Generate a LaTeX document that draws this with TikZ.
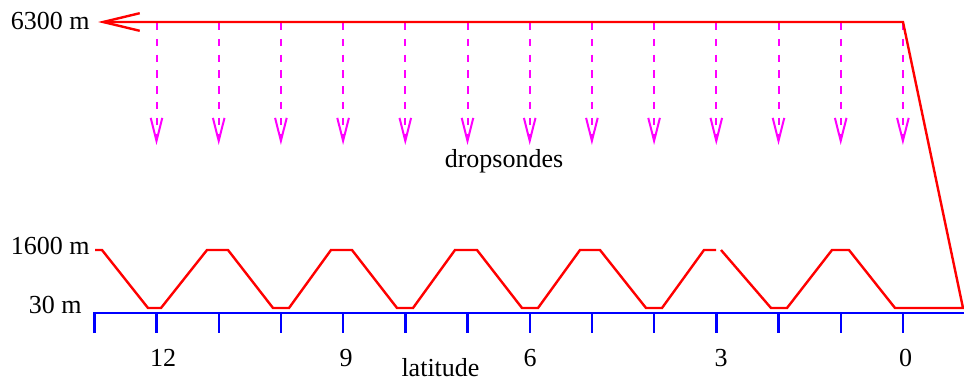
\documentclass[tikz,border=0pt]{standalone}
\usepackage{fontspec}
\setmainfont{Liberation Serif}
\usetikzlibrary{arrows.meta}
\definecolor{trackred}{RGB}{255,0,0}
\definecolor{sondemag}{RGB}{255,0,255}
\definecolor{axisblue}{RGB}{0,0,255}

\begin{document}
\begin{tikzpicture}[
  x=0.5pt, y=-0.5pt,
  track/.style={trackred, line width=1.2pt},
  sonde/.style={sondemag, line width=1pt, dash pattern=on 3.75pt off 4.15pt,
                -{Straight Barb[length=11.5pt,width=5.8pt]}},
  axisline/.style={axisblue, line width=1.2pt},
  lbl/.style={font=\fontsize{13}{15}\selectfont, inner sep=0pt}
]
\useasboundingbox (0,0) rectangle (964,385);

% levels
\node[lbl, anchor=base east] (high) at (90,30) {6300 m};
\node[lbl, anchor=base east] (mid) at (90,254) {1600 m};
\node[lbl, anchor=base east] (low) at (82,313) {30 m};

% dropsondes
\foreach \k in {1,...,13}
  \draw[sonde] ({94.3+62.2*\k},23) -- ({94.3+62.2*\k},145);
\node[lbl, anchor=base] (drop) at (504,168) {dropsondes};

% latitude axis
\draw[axisline] (94.3,333) -- (94.3,313) -- (964,313);
\foreach \k in {1,...,13}
  \draw[axisline] ({94.3+62.2*\k},313) -- ++(0,20);
\node[lbl, anchor=base] (lat12) at (163,366) {12};
\node[lbl, anchor=base] (lat9) at (346,366) {9};
\node[lbl, anchor=base] (lat6) at (530,366) {6};
\node[lbl, anchor=base] (lat3) at (721,366) {3};
\node[lbl, anchor=base] (lat0) at (905.5,366) {0};
\node[lbl, anchor=base] (latitude) at (440.5,376) {latitude};

% flight track
\draw[track] (95,250) -- (102,250) -- (148,308) -- (161,308) -- (207,250)
  -- (228,250) -- (273,308) -- (289,308) -- (331,250) -- (352,250)
  -- (397,308) -- (413,308) -- (455,250) -- (477,250) -- (522,308)
  -- (538,308) -- (580,250) -- (600,250) -- (646,308) -- (662,308)
  -- (704,250) -- (716,250);
\draw[track, -{Straight Barb[length=18.3pt,width=8.8pt]}] (721,250)
  -- (771,308) -- (787,308) -- (832,250) -- (849,250) -- (895,308)
  -- (963,308) -- (903,22) -- (98,22);
\end{tikzpicture}
\end{document}
